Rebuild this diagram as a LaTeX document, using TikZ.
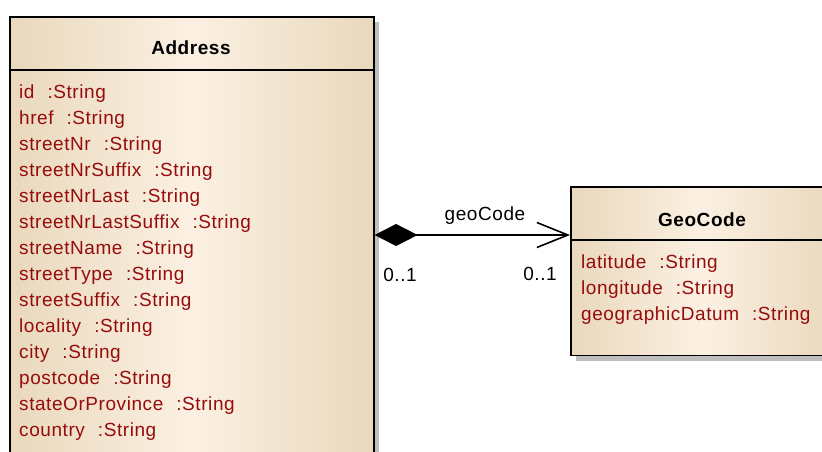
\documentclass[tikz,border=0pt]{standalone}
\usepackage{fontspec}
\setmainfont{Liberation Sans}[LetterSpace=3]
\usetikzlibrary{arrows.meta}
\definecolor{umltan}{RGB}{233,216,188}
\definecolor{umlcream}{RGB}{251,240,226}
\definecolor{umlattr}{RGB}{150,12,12}
\definecolor{umlshadow}{RGB}{190,190,190}
\begin{document}
\begin{tikzpicture}[x=1pt, y=-1pt,
    classbox/.style={draw, line width=1.6pt, inner sep=0pt, anchor=north west,
        left color=umltan, right color=umltan, middle color=umlcream},
    classname/.style={font=\fontsize{19}{22}\selectfont\bfseries},
    attr/.style={anchor=west, inner sep=0pt, text=umlattr, font=\fontsize{19}{22}\selectfont},
    lbl/.style={inner sep=0pt, font=\fontsize{19}{22}\selectfont},
    comp/.style={line width=1.3pt, {Diamond[length=43pt,width=22pt]}-{Straight Barb[length=31pt,width=25pt,line width=1.6pt]}}]
    \useasboundingbox (0,0) rectangle (822,452);
    \clip (0,0) rectangle (822,452);
% shadows
    \fill[umlshadow] (373,22) rectangle (379,470);
    \fill[umlshadow] (576,354) rectangle (840,361);
% Address
\node[classbox, minimum width=364pt, minimum height=460pt] (address) at (9,16) {};
    \draw[line width=1.6pt] (address.west |- 0,70) -- (address.east |- 0,70);
    \node[classname] (addressName) at (191,48) {Address};
    \foreach \a [count=\i from 0] in {id,href,streetNr,streetNrSuffix,streetNrLast,streetNrLastSuffix,streetName,streetType,streetSuffix,locality,city,postcode,stateOrProvince,country}
        \node[attr] (addr\i) at (19,94+26*\i) {\a\hspace{13pt}:String};
% GeoCode
\node[classbox, minimum width=264pt, minimum height=168.5pt] (geocode) at (570,186) {};
    \draw[line width=1.6pt] (geocode.west |- 0,240) -- (geocode.east |- 0,240);
    \node[classname] (geocodeName) at (702,220) {GeoCode};
    \foreach \a [count=\i from 0] in {latitude,longitude,geographicDatum}
        \node[attr] (geo\i) at (581,264+26*\i) {\a\hspace{13pt}:String};
% association
    \coordinate (assocY) at (0,235);
    \draw[comp] (address.east |- assocY) -- (geocode.west |- assocY);
    \node[lbl] (roleName) at (485,216) {geoCode};
    \node[lbl] (multSrc) at (400,275) {0..1};
    \node[lbl] (multDst) at (540,274) {0..1};
    \end{tikzpicture}
\end{document}
